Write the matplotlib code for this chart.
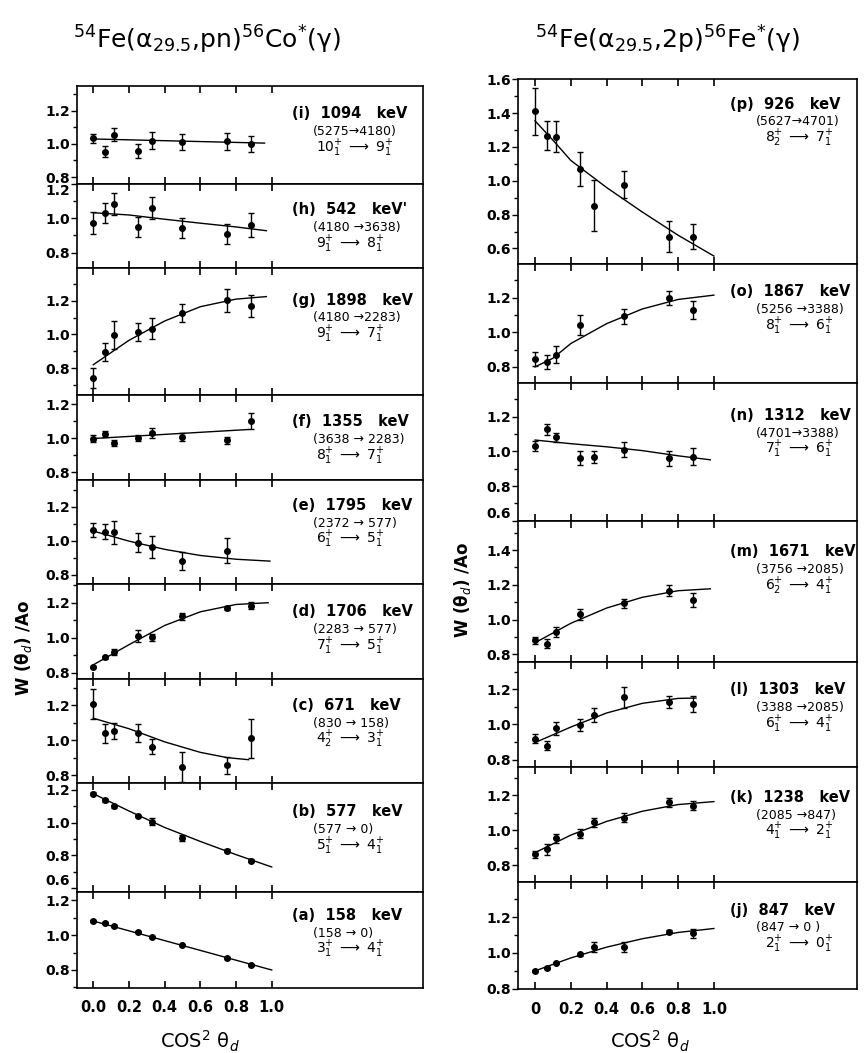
import matplotlib.pyplot as plt
from matplotlib.ticker import MultipleLocator, FixedLocator, FormatStrFormatter

# cos^2(theta_d) of the detector angles
x_std = [0.0, 0.067, 0.117, 0.25, 0.329, 0.5, 0.75, 0.883]
x_e = [0.0, 0.067, 0.117, 0.25, 0.329, 0.5, 0.75]
x_om = [0.0, 0.067, 0.117, 0.25, 0.5, 0.75, 0.883]

# ---- left column: 54Fe(a,pn)56Co ----
w_i = [1.035, 0.953, 1.055, 0.958, 1.02, 1.014, 1.016, 1.0]
err_i = [0.028, 0.032, 0.04, 0.043, 0.05, 0.048, 0.05, 0.048]
fitx_i = [0.0, 0.96]
fit_i = [1.03, 1.005]

w_h = [0.973, 1.032, 1.085, 0.951, 1.059, 0.943, 0.908, 0.963]
err_h = [0.067, 0.06, 0.063, 0.06, 0.065, 0.059, 0.059, 0.069]
fitx_h = [0.0, 0.2, 0.4, 0.6, 0.8, 0.97]
fit_h = [1.033, 1.02, 0.995, 0.972, 0.95, 0.928]

w_g = [0.74, 0.895, 0.994, 1.014, 1.034, 1.129, 1.203, 1.169]
err_g = [0.061, 0.054, 0.083, 0.052, 0.063, 0.054, 0.067, 0.067]
fitx_g = [0.0, 0.2, 0.4, 0.6, 0.8, 0.97]
fit_g = [0.82, 0.965, 1.08, 1.165, 1.21, 1.225]

w_f = [0.996, 1.025, 0.971, 1.0, 1.029, 1.006, 0.987, 1.099]
err_f = [0.02, 0.017, 0.02, 0.02, 0.03, 0.024, 0.02, 0.048]
fitx_f = [0.0, 0.87]
fit_f = [0.997, 1.05]

w_e = [1.063, 1.053, 1.049, 0.988, 0.965, 0.88, 0.942]
err_e = [0.041, 0.045, 0.065, 0.055, 0.065, 0.053, 0.072]
fitx_e = [0.0, 0.2, 0.4, 0.6, 0.8, 0.99]
fit_e = [1.057, 0.998, 0.95, 0.914, 0.892, 0.881]

w_d = [0.833, 0.888, 0.919, 1.01, 1.004, 1.122, 1.171, 1.184]
err_d = [0.008, 0.01, 0.015, 0.033, 0.02, 0.02, 0.012, 0.02]
fitx_d = [0.0, 0.2, 0.4, 0.6, 0.8, 0.98]
fit_d = [0.845, 0.96, 1.07, 1.148, 1.19, 1.2]

w_c = [1.206, 1.039, 1.054, 1.04, 0.963, 0.845, 0.855, 1.01]
err_c = [0.087, 0.054, 0.045, 0.052, 0.043, 0.087, 0.048, 0.11]
fitx_c = [0.0, 0.2, 0.4, 0.6, 0.75, 0.87]
fit_c = [1.125, 1.065, 0.99, 0.93, 0.9, 0.888]

w_b = [1.175, 1.135, 1.099, 1.04, 1.005, 0.906, 0.83, 0.768]
err_b = [0.008, 0.008, 0.008, 0.008, 0.02, 0.02, 0.008, 0.008]
fitx_b = [0.0, 0.2, 0.4, 0.6, 0.8, 1.0]
fit_b = [1.175, 1.07, 0.97, 0.885, 0.805, 0.73]

w_a = [1.079, 1.068, 1.05, 1.016, 0.99, 0.944, 0.868, 0.829]
err_a = [0.006, 0.006, 0.006, 0.006, 0.006, 0.006, 0.006, 0.006]
fitx_a = [0.0, 1.0]
fit_a = [1.08, 0.80]

# ---- right column: 54Fe(a,2p)56Fe ----
w_p = [1.41, 1.265, 1.261, 1.069, 0.853, 0.976, 0.67, 0.67]
err_p = [0.14, 0.085, 0.09, 0.098, 0.15, 0.08, 0.09, 0.073]
fitx_p = [0.0, 0.1, 0.2, 0.4, 0.6, 0.8, 1.0]
fit_p = [1.354, 1.24, 1.12, 0.96, 0.815, 0.678, 0.555]

w_o = [0.846, 0.826, 0.871, 1.041, 1.093, 1.199, 1.128]
err_o = [0.039, 0.04, 0.048, 0.058, 0.043, 0.042, 0.053]
fitx_o = [0.0, 0.1, 0.2, 0.4, 0.6, 0.8, 1.0]
fit_o = [0.80, 0.85, 0.935, 1.05, 1.135, 1.19, 1.215]

w_n = [1.032, 1.127, 1.082, 0.962, 0.967, 1.009, 0.962, 0.971]
err_n = [0.029, 0.033, 0.027, 0.038, 0.034, 0.043, 0.043, 0.048]
fitx_n = [0.0, 0.2, 0.4, 0.6, 0.8, 0.98]
fit_n = [1.066, 1.045, 1.027, 1.005, 0.975, 0.952]

w_m = [0.879, 0.86, 0.927, 1.029, 1.094, 1.167, 1.11]
err_m = [0.023, 0.026, 0.027, 0.034, 0.026, 0.03, 0.04]
fitx_m = [0.0, 0.2, 0.4, 0.6, 0.8, 0.98]
fit_m = [0.866, 0.978, 1.066, 1.128, 1.166, 1.177]

w_l = [0.92, 0.878, 0.978, 0.997, 1.054, 1.155, 1.126, 1.116]
err_l = [0.028, 0.026, 0.038, 0.032, 0.038, 0.059, 0.033, 0.043]
fitx_l = [0.0, 0.2, 0.4, 0.6, 0.8, 0.9]
fit_l = [0.897, 0.985, 1.065, 1.12, 1.148, 1.15]

w_k = [0.863, 0.891, 0.954, 0.981, 1.044, 1.072, 1.158, 1.139]
err_k = [0.02, 0.03, 0.025, 0.025, 0.025, 0.025, 0.025, 0.025]
fitx_k = [0.0, 0.2, 0.4, 0.6, 0.8, 1.0]
fit_k = [0.872, 0.972, 1.05, 1.108, 1.146, 1.163]

w_j = [0.901, 0.915, 0.945, 0.992, 1.033, 1.033, 1.119, 1.11]
err_j = [0.006, 0.006, 0.006, 0.008, 0.03, 0.03, 0.006, 0.025]
fitx_j = [0.0, 0.2, 0.4, 0.6, 0.8, 1.0]
fit_j = [0.9, 0.972, 1.032, 1.079, 1.114, 1.136]

# labels
left_tags = ['i', 'h', 'g', 'f', 'e', 'd', 'c', 'b', 'a']
left_energy = ['1094', '542', '1898', '1355', '1795', '1706', '671', '577', '158']
left_levels = ['5275→4180', '4180 →3638', '4180 →2283', '3638 → 2283', '2372 → 577',
               '2283 → 577', '830 → 158', '577 → 0', '158 → 0']
left_spins = [('10', '1', '9', '1'), ('9', '1', '8', '1'), ('9', '1', '7', '1'),
              ('8', '1', '7', '1'), ('6', '1', '5', '1'), ('7', '1', '5', '1'),
              ('4', '2', '3', '1'), ('5', '1', '4', '1'), ('3', '1', '4', '1')]

right_tags = ['p', 'o', 'n', 'm', 'l', 'k', 'j']
right_energy = ['926', '1867', '1312', '1671', '1303', '1238', '847']
right_levels = ['5627→4701', '5256 →3388', '4701→3388', '3756 →2085', '3388 →2085',
                '2085 →847', '847 → 0 ']
right_spins = [('8', '2', '7', '1'), ('8', '1', '6', '1'), ('7', '1', '6', '1'),
               ('6', '2', '4', '1'), ('6', '1', '4', '1'), ('4', '1', '2', '1'),
               ('2', '1', '0', '1')]

left_data = [(x_std, w_i, err_i, fitx_i, fit_i), (x_std, w_h, err_h, fitx_h, fit_h),
             (x_std, w_g, err_g, fitx_g, fit_g), (x_std, w_f, err_f, fitx_f, fit_f),
             (x_e, w_e, err_e, fitx_e, fit_e), (x_std, w_d, err_d, fitx_d, fit_d),
             (x_std, w_c, err_c, fitx_c, fit_c), (x_std, w_b, err_b, fitx_b, fit_b),
             (x_std, w_a, err_a, fitx_a, fit_a)]
right_data = [(x_std, w_p, err_p, fitx_p, fit_p), (x_om, w_o, err_o, fitx_o, fit_o),
              (x_std, w_n, err_n, fitx_n, fit_n), (x_om, w_m, err_m, fitx_m, fit_m),
              (x_std, w_l, err_l, fitx_l, fit_l), (x_std, w_k, err_k, fitx_k, fit_k),
              (x_std, w_j, err_j, fitx_j, fit_j)]

# layout (pixels) and axis ranges
W, H = 866, 1053
left_tops = [86, 184, 268, 395, 480, 584, 679, 783, 892, 988]
left_ylims = [(0.758, 1.35), (0.71, 1.201), (0.64, 1.395), (0.753, 1.253), (0.747, 1.356),
              (0.764, 1.307), (0.755, 1.349), (0.578, 1.24), (0.697, 1.246)]
left_lab_dy = [28, 26, 32, 27, 25, 28, 26, 29, 23]
right_tops = [79, 264, 383, 521, 662, 767, 882, 989]
right_ylims = [(0.508, 1.601), (0.707, 1.395), (0.599, 1.395), (0.755, 1.568),
               (0.758, 1.355), (0.705, 1.36), (0.799, 1.395)]
right_lab_dy = [25, 28, 32, 31, 28, 30, 28]

fig = plt.figure(figsize=(W / 100, H / 100), dpi=100)


def draw_column(x0, x1, tops, ylims, xlim, data, tags, energy, levels, spins,
                lab_dy, lab_x, xticklabels):
    n = len(data)
    for k in range(n):
        top, bot = tops[k], tops[k + 1]
        ax = fig.add_axes([x0 / W, 1 - bot / H, (x1 - x0) / W, (bot - top) / H])
        x, w, e, fx, fy = data[k]
        ax.errorbar(x, w, yerr=e, fmt='o', color='black', ms=4, capsize=2.2,
                    elinewidth=1, capthick=1)
        ax.plot(fx, fy, color='black', lw=1)
        ax.set_xlim(*xlim)
        ymin, ymax = ylims[k]
        ax.set_ylim(ymin, ymax)
        ax.yaxis.set_major_locator(MultipleLocator(0.2))
        ax.yaxis.set_minor_locator(MultipleLocator(0.1))
        ax.yaxis.set_major_formatter(FormatStrFormatter('%.1f'))
        ax.xaxis.set_major_locator(FixedLocator([0, 0.2, 0.4, 0.6, 0.8, 1.0]))
        ax.tick_params(axis='y', which='major', direction='out', length=4, width=1,
                       pad=1, labelsize=10)
        ax.tick_params(axis='y', which='minor', direction='out', length=3, width=1)
        ax.tick_params(axis='x', direction='in', top=True, bottom=True, length=5,
                       width=1.2, labelsize=10.5, pad=9)
        # labels sitting on an inner panel edge are pushed off that edge
        locs = ax.get_yticks()
        ticks = ax.yaxis.get_major_ticks(len(locs))
        hpx = bot - top
        for loc, t in zip(locs, ticks):
            t.label1.set_fontweight('bold')
            if k > 0 and (ymax - loc) / (ymax - ymin) * hpx < 3:
                t.label1.set_verticalalignment('top')
            elif k < n - 1 and 0 <= (loc - ymin) / (ymax - ymin) * hpx < 5:
                t.label1.set_verticalalignment('bottom')
        if k < n - 1:
            ax.set_xticklabels([])
        else:
            ax.set_xticklabels(xticklabels, fontweight='bold')
        for s in ax.spines.values():
            s.set_linewidth(1.2)

        y1 = top + lab_dy[k]
        fig.text(lab_x[0] / W, 1 - y1 / H,
                 '(%s)  %s   keV%s' % (tags[k], energy[k], "'" if energy[k] == '542' else ''),
                 fontsize=10.5, fontweight='bold', va='center')
        fig.text(lab_x[1] / W, 1 - (y1 + 18) / H, '(%s)' % levels[k],
                 fontsize=9, va='center')
        a, ai, b, bi = spins[k]
        fig.text(lab_x[2] / W, 1 - (y1 + 34) / H,
                 r'$%s^{+}_{%s}\;\longrightarrow\;%s^{+}_{%s}$' % (a, ai, b, bi),
                 fontsize=10, va='center')


draw_column(76.7, 423, left_tops, left_ylims, (-0.093, 1.848), left_data, left_tags,
            left_energy, left_levels, left_spins, left_lab_dy, (292, 313, 316),
            ['0.0', '0.2', '0.4', '0.6', '0.8', '1.0'])
draw_column(518, 857, right_tops, right_ylims, (-0.095, 1.80), right_data, right_tags,
            right_energy, right_levels, right_spins, right_lab_dy, (730, 756, 765),
            ['0', '0.2', '0.4', '0.6', '0.8', '1.0'])

# titles
fig.text(207 / W, 1 - 40 / H, r'$^{54}$Fe(α$_{29.5}$,pn)$^{56}$Co$^{*}$(γ)',
         fontsize=18, ha='center', va='center')
fig.text(668 / W, 1 - 40 / H, r'$^{54}$Fe(α$_{29.5}$,2p)$^{56}$Fe$^{*}$(γ)',
         fontsize=18, ha='center', va='center')

# axis titles
fig.text(200 / W, 1 - 1041 / H, r'COS$^{2}$ θ$_{d}$', fontsize=14,
         ha='center', va='center')
fig.text(650 / W, 1 - 1041 / H, r'COS$^{2}$ θ$_{d}$', fontsize=14,
         ha='center', va='center')
fig.text(24 / W, 1 - 648 / H, r'W (θ$_{d}$) /Ao', fontsize=12, fontweight='bold',
         rotation=90, ha='center', va='center')
fig.text(463 / W, 1 - 590 / H, r'W (θ$_{d}$) /Ao', fontsize=12, fontweight='bold',
         rotation=90, ha='center', va='center')

fig.savefig('out.png', dpi=100)
